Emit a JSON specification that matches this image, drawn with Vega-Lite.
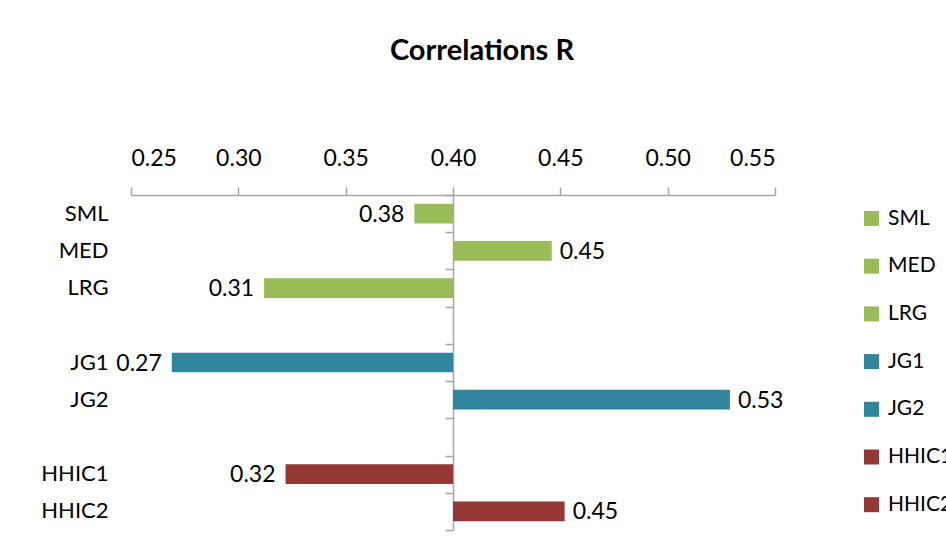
{
  "$schema": "https://vega.github.io/schema/vega-lite/v6.json",
  "autosize": {"type": "none"},
  "width": 644,
  "height": 335,
  "padding": {"left": 131, "top": 195, "right": 171, "bottom": 24},
  "background": "white",
  "title": {
    "text": "Correlations R",
    "font": "Lato",
    "fontSize": 29,
    "fontWeight": "bold",
    "color": "black",
    "anchor": "middle",
    "frame": "group",
    "dx": 29,
    "offset": 81
  },
  "config": {
    "view": {"stroke": null},
    "font": "Lato",
    "axis": {"grid": false, "domainColor": "#A6A6A6", "tickColor": "#A6A6A6", "domainWidth": 1.5, "tickWidth": 1.5}
  },
  "data": {
    "values": [
      {"cat": "SML", "r": 0.382},
      {"cat": "MED", "r": 0.446},
      {"cat": "LRG", "r": 0.312},
      {"cat": "JG1", "r": 0.269},
      {"cat": "JG2", "r": 0.529},
      {"cat": "HHIC1", "r": 0.322},
      {"cat": "HHIC2", "r": 0.452}
    ]
  },
  "encoding": {
    "y": {
      "field": "cat",
      "type": "nominal",
      "scale": {
        "domain": ["SML", "MED", "LRG", " ", "JG1", "JG2", "  ", "HHIC1", "HHIC2"],
        "paddingInner": 0,
        "paddingOuter": 0
      }
    },
    "x": {
      "field": "r",
      "type": "quantitative",
      "scale": {"domain": [0.25, 0.55], "nice": false, "zero": false},
      "axis": {
        "orient": "top",
        "values": [0.25, 0.3, 0.35, 0.4, 0.45, 0.5, 0.55],
        "format": ".2f",
        "title": null,
        "tickSize": 8,
        "labelFont": "Lato",
        "labelFontSize": 23,
        "labelColor": "black",
        "labelPadding": 17
      }
    }
  },
  "layer": [
    {
      "mark": {"type": "bar", "height": {"band": 0.53}},
      "encoding": {
        "y": {
          "field": "cat",
          "type": "nominal",
          "axis": {
            "orient": "left",
            "title": null,
            "domain": false,
            "ticks": false,
            "labelPadding": 23,
            "labelFont": "Lato",
            "labelFontSize": 22,
            "labelColor": "black"
          }
        },
        "x2": {"datum": 0.4},
        "color": {
          "field": "cat",
          "type": "nominal",
          "scale": {
            "domain": ["SML", "MED", "LRG", "JG1", "JG2", "HHIC1", "HHIC2"],
            "range": ["#9BBB59", "#9BBB59", "#9BBB59", "#31859C", "#31859C", "#953735", "#953735"]
          },
          "legend": {
            "title": null,
            "orient": "none",
            "legendX": 730,
            "legendY": 13,
            "symbolType": "square",
            "symbolSize": 225,
            "symbolStrokeWidth": 0,
            "symbolOpacity": 1,
            "labelFont": "Lato",
            "labelFontSize": 21,
            "labelColor": "black",
            "labelOffset": 6,
            "labelLimit": 200,
            "rowPadding": 25.7,
            "padding": 0
          }
        }
      }
    },
    {
      "transform": [{"filter": "datum.r < 0.4"}],
      "mark": {"type": "text", "align": "right", "baseline": "middle", "dx": -10, "dy": 1, "font": "Lato", "fontSize": 23, "color": "black"},
      "encoding": {
        "y": {
          "field": "cat",
          "type": "nominal",
          "axis": {
            "orient": "left",
            "offset": -322,
            "title": null,
            "labels": false,
            "domain": true,
            "ticks": true,
            "tickBand": "extent",
            "tickSize": 8
          }
        },
        "text": {"field": "r", "type": "quantitative", "format": ".2f"}
      }
    },
    {
      "transform": [{"filter": "datum.r >= 0.4"}],
      "mark": {"type": "text", "align": "left", "baseline": "middle", "dx": 8, "dy": 1, "font": "Lato", "fontSize": 23, "color": "black"},
      "encoding": {
        "y": {"field": "cat", "type": "nominal", "axis": null},
        "text": {"field": "r", "type": "quantitative", "format": ".2f"}
      }
    }
  ],
  "resolve": {"axis": {"y": "independent"}}
}
